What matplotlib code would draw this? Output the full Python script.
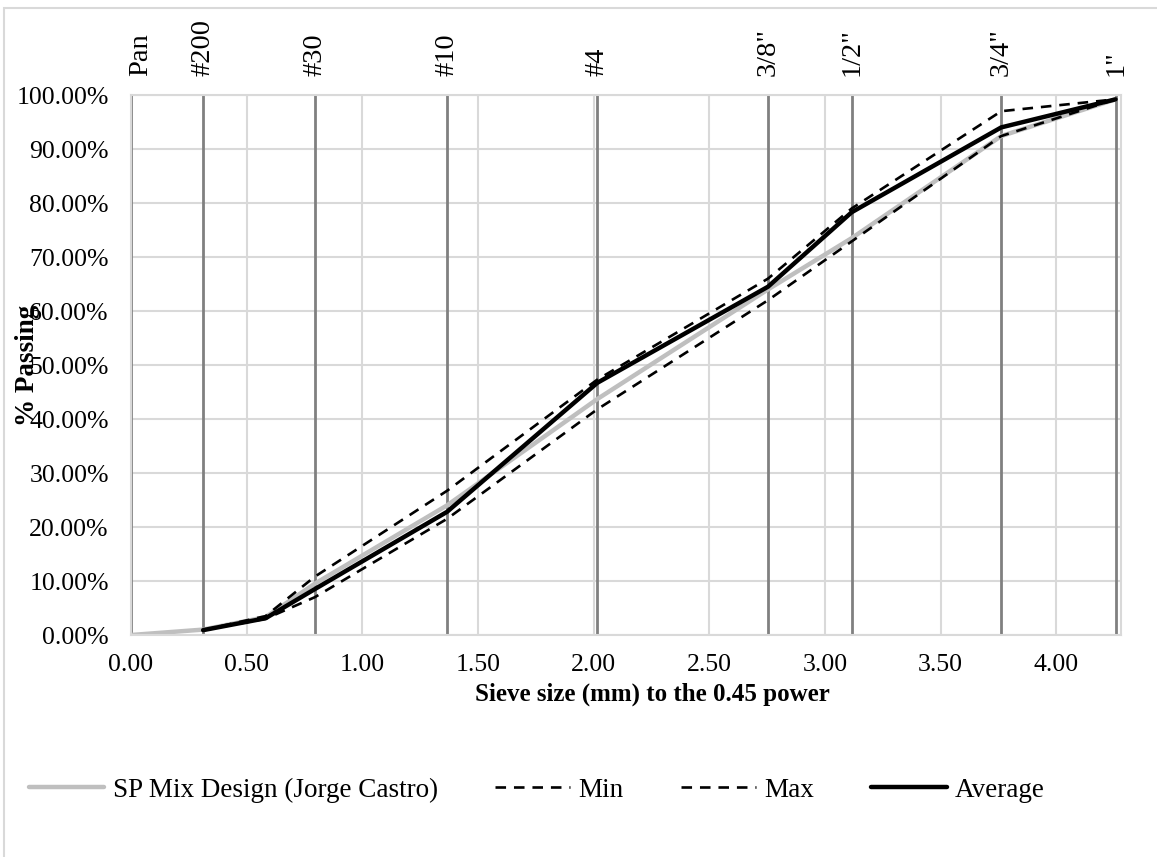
import numpy as np
import matplotlib
matplotlib.use("Agg")
import matplotlib.pyplot as plt
from matplotlib.patches import Rectangle
from matplotlib.ticker import FuncFormatter, MultipleLocator

plt.rcParams['font.family'] = ['Liberation Serif', 'DejaVu Serif']

# sieve sizes (mm) -> x = size ** 0.45
sieve_names = ['Pan', '#200', '#30', '#10', '#4', '3/8"', '1/2"', '3/4"', '1"']
sieve_mm = [0.0, 0.075, 0.6, 2.0, 4.75, 9.5, 12.5, 19.0, 25.0]

# gradation points (mm) used by the series
grad_mm = [0.075, 0.3, 0.6, 2.0, 4.75, 9.5, 12.5, 19.0, 25.0]
design_mm = [0.0] + grad_mm
design_pct = [0.0, 1.0, 3.3, 9.5, 24.0, 43.7, 64.0, 73.5, 92.4, 99.2]
min_pct = [0.9, 3.0, 7.0, 21.5, 41.8, 62.0, 72.9, 92.4, 99.2]
max_pct = [0.9, 3.5, 10.8, 26.7, 47.3, 66.0, 79.0, 97.0, 99.2]
avg_pct = [0.9, 3.1, 8.5, 22.8, 46.7, 64.5, 78.3, 94.0, 99.2]

P = 0.45
sieve_x = np.array(sieve_mm) ** P
grad_x = np.array(grad_mm) ** P
design_x = np.array(design_mm) ** P

W, H = 1157, 857
fig = plt.figure(figsize=(W / 100, H / 100), dpi=100)
ax = fig.add_axes([131 / W, 1 - 635 / H, 990 / W, 540 / H])

grid_c = '#d9d9d9'
ax.set_xlim(0, 4.28)
ax.set_ylim(0, 100)
ax.xaxis.set_major_locator(MultipleLocator(0.5))
ax.yaxis.set_major_locator(MultipleLocator(10))
ax.grid(True, color=grid_c, linewidth=1.5, zorder=0)
ax.set_axisbelow(True)
for s in ax.spines.values():
    s.set_color(grid_c)
    s.set_linewidth(1.5)

for x in sieve_x:
    ax.axvline(x, color='#808080', linewidth=2, zorder=1)

ax.plot(design_x, design_pct, color='#bfbfbf', linewidth=3.2, zorder=2,
        label='SP Mix Design (Jorge Castro)', solid_capstyle='round')
ax.plot(grad_x, min_pct, color='black', linewidth=1.9, dashes=(4, 3), zorder=3, label='Min')
ax.plot(grad_x, max_pct, color='black', linewidth=1.9, dashes=(4, 3), zorder=3, label='Max')
ax.plot(grad_x, avg_pct, color='black', linewidth=3.2, zorder=4, label='Average',
        solid_capstyle='round')

ax.xaxis.set_major_formatter(FuncFormatter(lambda v, p: f'{v:.2f}'))
ax.yaxis.set_major_formatter(FuncFormatter(lambda v, p: f'{v:.2f}%'))
ax.tick_params(axis='both', length=0, labelsize=18.5)
ax.tick_params(axis='y', pad=16)
ax.tick_params(axis='x', pad=14)

ax.set_xlabel('Sieve size (mm) to the 0.45 power', fontsize=18, fontweight='bold')
ax.xaxis.set_label_coords(0.527, -0.088)
ax.set_ylabel('% Passing', fontsize=19.5, fontweight='bold')
ax.yaxis.set_label_coords(-0.092, 0.5)

# sieve names above plot
trans = ax.get_xaxis_transform()
for name, x in zip(sieve_names, sieve_x):
    ax.text(x + (0.04 if name == 'Pan' else 0.0), 1.035, name, rotation=90,
            ha='center', va='bottom', fontsize=20.5, transform=trans)

fig.legend(loc='center', bbox_to_anchor=(0.464, 1 - 790 / H), ncol=4, frameon=False,
           fontsize=19.5, handlelength=2.8, columnspacing=2.1, handletextpad=0.3)

fig.patches.append(Rectangle((4 / W, -0.1), 1.2, 1 - 8 / H + 0.1, transform=fig.transFigure,
                             fill=False, edgecolor=grid_c, linewidth=1.5))

fig.savefig('out.png', dpi=100)
